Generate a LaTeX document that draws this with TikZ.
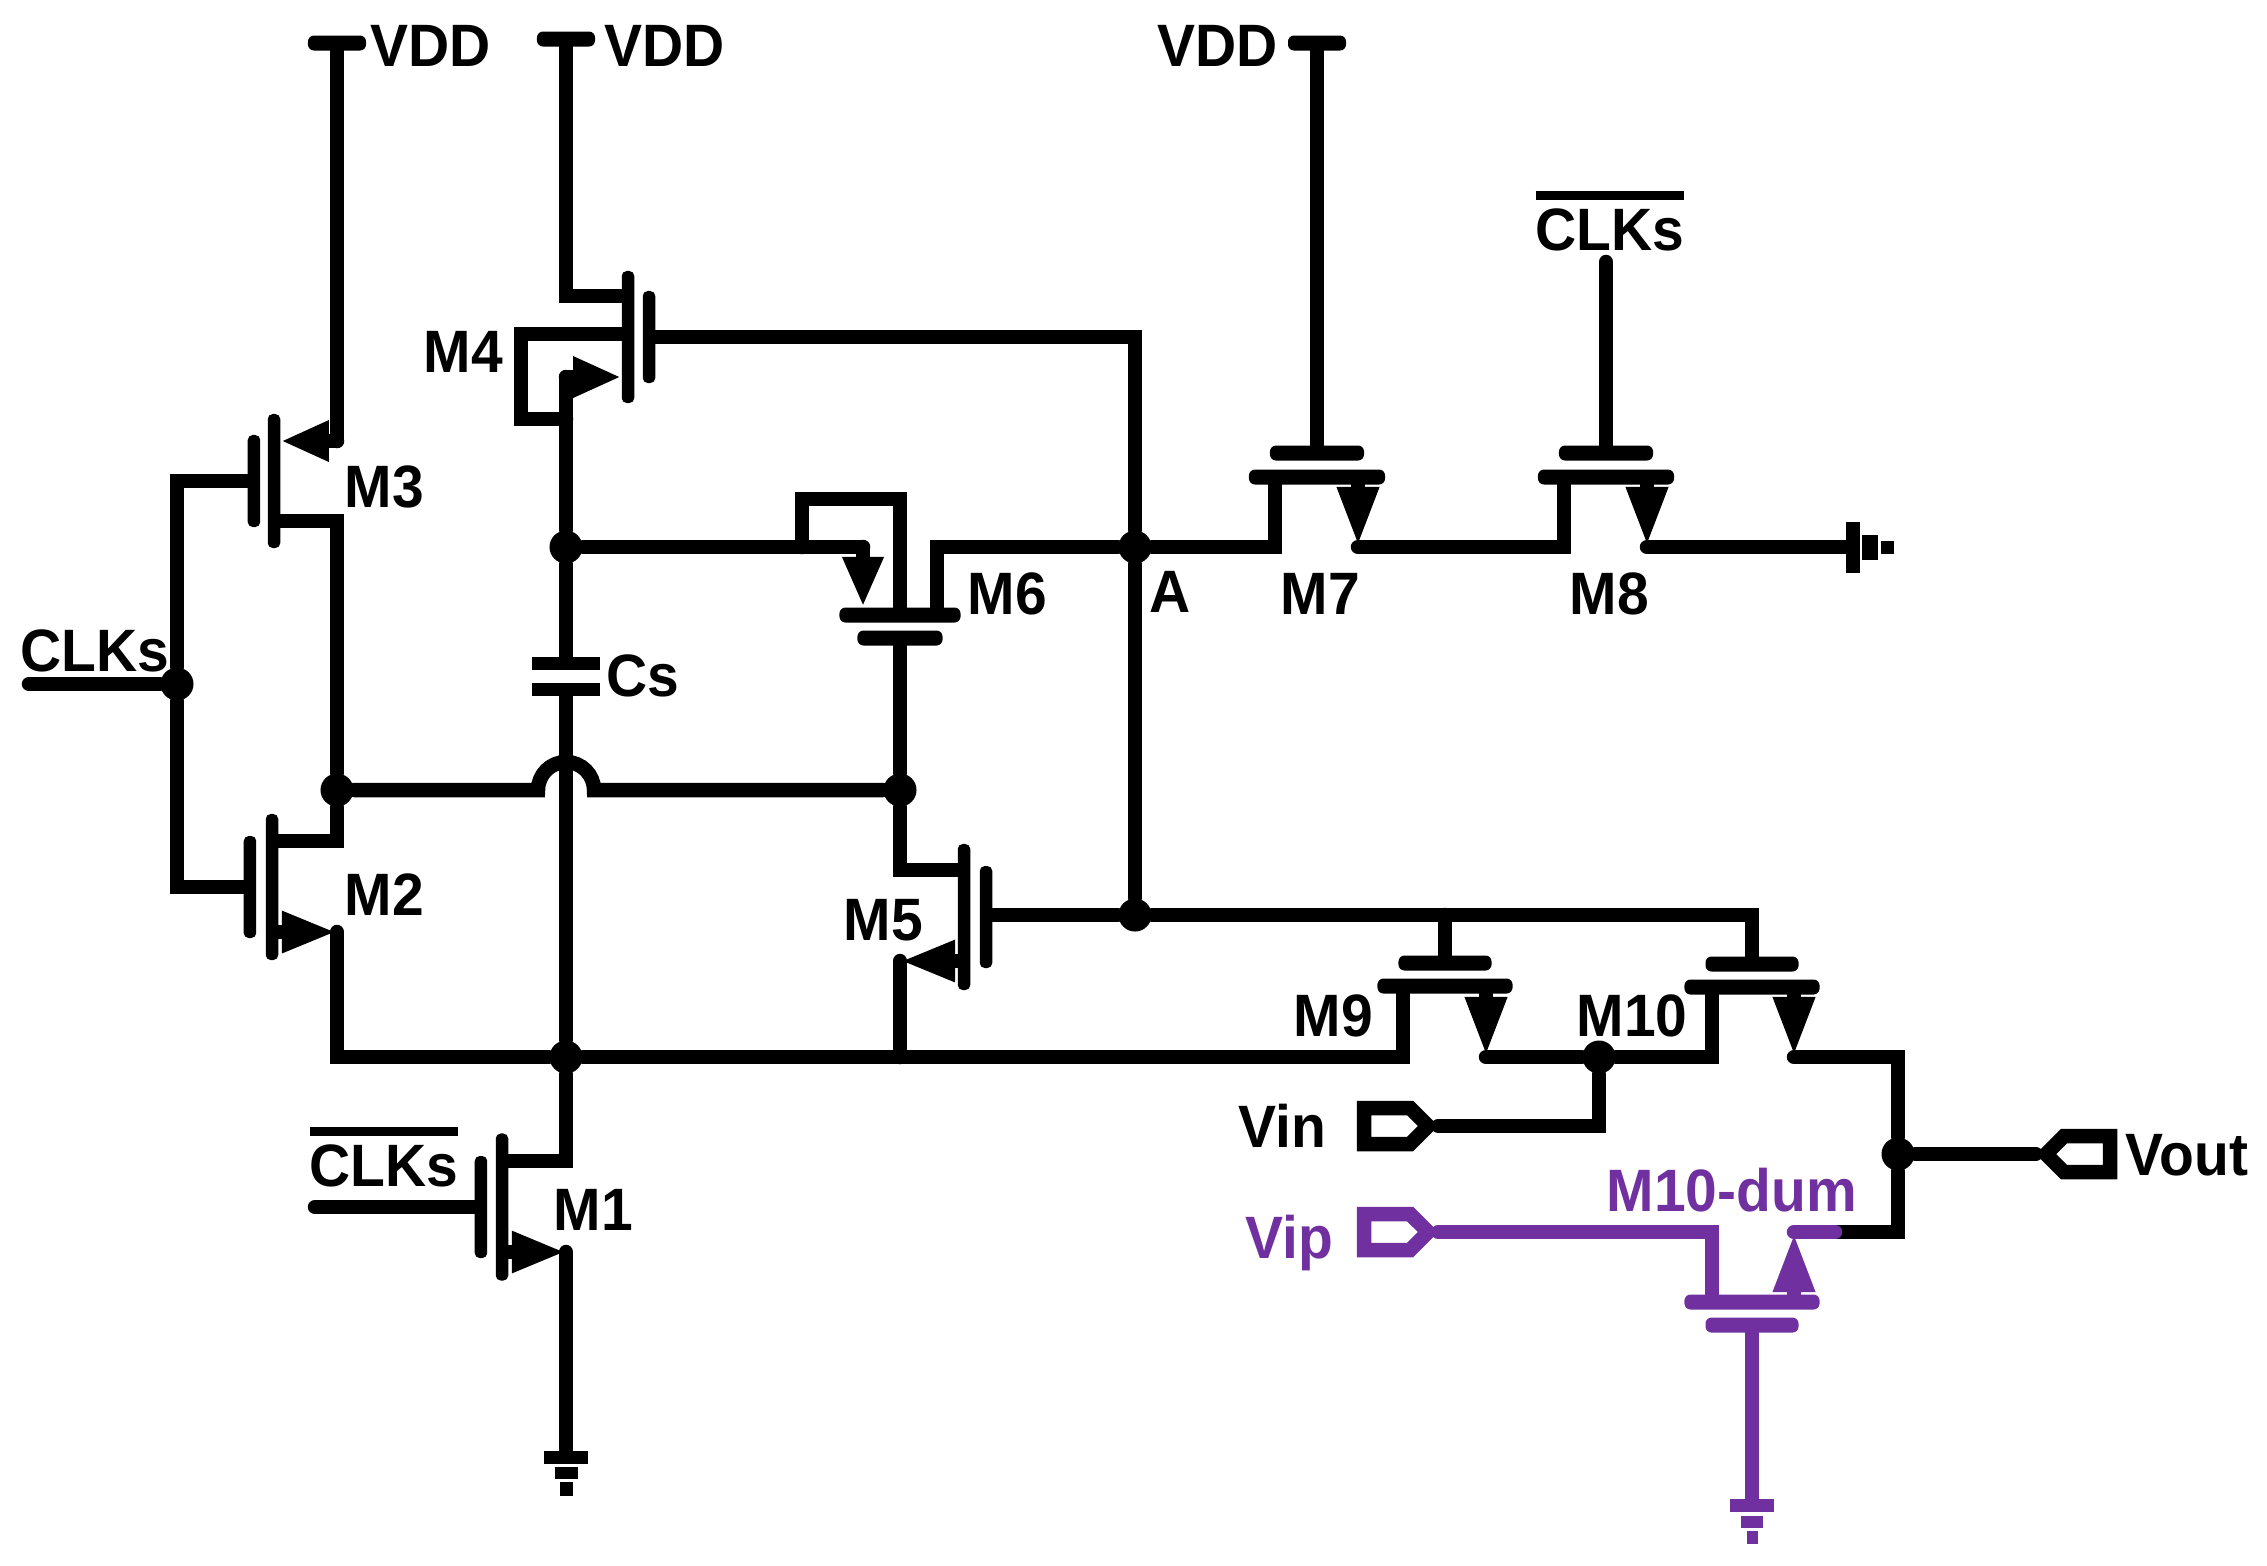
\documentclass[tikz,border=0pt]{standalone}
\usepackage{fontspec}
\setmainfont{Liberation Sans}
\usepackage{tikz}
\usetikzlibrary{shapes.symbols, arrows.meta}
\definecolor{dumcolor}{RGB}{112,48,160}
\tikzstyle{wire} = [line width=1.45mm, line cap=round, line join=miter]
\tikzstyle{arrow} = [wire, -{Triangle[length=#1, width=3.8mm]}]
\tikzstyle{dot} = [circle, fill, inner sep=0pt, minimum size=0.33cm]
\tikzstyle{vbar} = [rectangle, rounded corners=0.5mm, fill, inner sep=0pt, minimum width=0.125cm, minimum height=#1]
\tikzstyle{hbar} = [rectangle, rounded corners=0.6mm, fill, inner sep=0pt, minimum height=0.15cm, minimum width=#1]
\tikzstyle{plate} = [rectangle, fill, inner sep=0pt]
\tikzstyle{lbl} = [inner sep=0pt, anchor=base west, yscale=1.05, font=\fontsize{16.2pt}{16.2pt}\selectfont\bfseries]
\tikzstyle{port} = [signal, signal from=nowhere, signal pointer angle=90, draw, line width=1.45mm, inner sep=0pt, minimum width=0.64cm, minimum height=0.36cm]
\newcommand{\clkbar}{\vbox{\hrule height 0.08cm \kern 0.08cm \hbox{CLKs}}}

\begin{document}

\begin{tikzpicture}[x=0.01cm, y=-0.01cm, node distance=2cm]
\useasboundingbox (0,0) rectangle (2267,1565);

\node (VDDa) [lbl] at (370,66) {VDD};

\node (VDDb) [lbl] at (604,66) {VDD};

\node (VDDc) [lbl] at (1157,66) {VDD};

\node (CLKa) [lbl] at (20,671) {CLKs};

\node (CLKb) [lbl] at (309,1186) {\clkbar};

\node (CLKc) [lbl] at (1535,250) {\clkbar};

\node (lM1) [lbl] at (553,1230) {M1};

\node (lM2) [lbl] at (344,915) {M2};

\node (lM3) [lbl] at (344,507) {M3};

\node (lM4) [lbl] at (423,372) {M4};

\node (lM5) [lbl] at (843,940) {M5};

\node (lM6) [lbl] at (967,614) {M6};

\node (lM7) [lbl] at (1280,614) {M7};

\node (lM8) [lbl] at (1569,614) {M8};

\node (lM9) [lbl] at (1293,1036) {M9};

\node (lM10) [lbl] at (1576,1036) {M10};

\node (lCs) [lbl] at (606,696) {Cs};

\node (lA) [lbl] at (1149,612) {A};

\node (lVin) [lbl] at (1238,1147) {Vin};

\node (lVout) [lbl] at (2125,1175) {Vout};

\node (lVip) [lbl, dumcolor] at (1245,1258) {Vip};

\node (lDum) [lbl, dumcolor] at (1606,1211) {M10-dum};


\node (vdda) [hbar=0.58cm] at (337,43) {};

\node (vddb) [hbar=0.58cm] at (566,39) {};

\node (vddc) [hbar=0.58cm] at (1317,43) {};

\node (M1ch) [vbar=1.47cm] at (502,1207) {};

\node (M1g) [vbar=1.02cm, left of=M1ch, node distance=0.21cm] {};

\node (M2ch) [vbar=1.46cm] at (272,887) {};

\node (M2g) [vbar=1.02cm, left of=M2ch, node distance=0.22cm] {};

\node (M3ch) [vbar=1.34cm] at (274,481) {};

\node (M3g) [vbar=0.92cm, left of=M3ch, node distance=0.2cm] {};

\node (M4ch) [vbar=1.32cm] at (628,337) {};

\node (M4g) [vbar=0.92cm, right of=M4ch, node distance=0.21cm] {};

\node (M5ch) [vbar=1.46cm] at (964,917) {};

\node (M5g) [vbar=1.02cm, right of=M5ch, node distance=0.22cm] {};

\node (M6ch) [hbar=1.21cm] at (900,615) {};

\node (M6g) [hbar=0.85cm, below of=M6ch, node distance=0.23cm] {};

\node (M7ch) [hbar=1.36cm] at (1317,477) {};

\node (M7g) [hbar=0.94cm, above of=M7ch, node distance=0.24cm] {};

\node (M8ch) [hbar=1.36cm] at (1606,477) {};

\node (M8g) [hbar=0.94cm, above of=M8ch, node distance=0.24cm] {};

\node (M9ch) [hbar=1.35cm] at (1445,986) {};

\node (M9g) [hbar=0.93cm, above of=M9ch, node distance=0.23cm] {};

\node (M10ch) [hbar=1.35cm] at (1752,987) {};

\node (M10g) [hbar=0.93cm, above of=M10ch, node distance=0.23cm] {};

\node (dumch) [hbar=1.35cm, dumcolor] at (1752,1302) {};

\node (dumg) [hbar=0.93cm, dumcolor, below of=dumch, node distance=0.23cm] {};

\node (Csa) [plate, minimum width=0.68cm, minimum height=0.13cm] at (566,663) {};

\node (Csb) [plate, minimum width=0.68cm, minimum height=0.13cm] at (566,689) {};

\node (gnda) [plate, minimum width=0.44cm, minimum height=0.13cm] at (566,1457) {};

\node (gndb) [plate, minimum width=0.23cm, minimum height=0.12cm, below of=gnda, node distance=0.155cm] {};

\node (gndc) [plate, minimum width=0.13cm, minimum height=0.14cm, below of=gndb, node distance=0.16cm] {};

\node (gnde) [plate, minimum width=0.14cm, minimum height=0.51cm] at (1853,547) {};

\node (gndf) [plate, minimum width=0.16cm, minimum height=0.25cm, right of=gnde, node distance=0.17cm] {};

\node (gndg) [plate, minimum width=0.13cm, minimum height=0.13cm, right of=gndf, node distance=0.175cm] {};

\node (dgnda) [plate, dumcolor, minimum width=0.44cm, minimum height=0.13cm] at (1752,1505) {};

\node (dgndb) [plate, dumcolor, minimum width=0.22cm, minimum height=0.12cm, below of=dgnda, node distance=0.165cm] {};

\node (dgndc) [plate, dumcolor, minimum width=0.11cm, minimum height=0.13cm, below of=dgndb, node distance=0.155cm] {};

\node (vinp) [port, signal to=east] at (1387,1126) {};

\node (vipp) [port, signal to=east, dumcolor] at (1387,1232) {};

\node (voutp) [port, signal to=west] at (2087,1154) {};

\node (nclk) [dot] at (177,684) {};

\node (n1) [dot] at (566,547) {};

\node (n2) [dot] at (337,790) {};

\node (n3) [dot] at (900,790) {};

\node (n4) [dot] at (566,1057) {};

\node (n5) [dot] at (1599,1057) {};

\node (n6) [dot] at (1898,1154) {};

\node (nA) [dot] at (1135,547) {};

\node (nB) [dot] at (1135,915) {};


\coordinate (clkin) at (29,684);

\coordinate (clkbin) at (315,1207);

\coordinate (clkcin) at (1606,262);

\coordinate (M1d) at (566,1161);

\coordinate (M1s) at (566,1252);

\coordinate (M2d) at (337,841);

\coordinate (M2s) at (337,932);

\coordinate (M3s) at (337,441);

\coordinate (M3d) at (337,521);

\coordinate (M4d) at (566,296);

\coordinate (M4s) at (566,377);

\coordinate (M4bt) at (521,334);

\coordinate (M4bb) at (521,419);

\coordinate (M5d) at (900,870);

\coordinate (M5s) at (900,961);

\coordinate (M6b) at (802,547);

\coordinate (M6bt) at (802,499);

\coordinate (M6s) at (863,547);

\coordinate (M6d) at (937,547);

\coordinate (M7d) at (1275,547);

\coordinate (M7s) at (1358,547);

\coordinate (M8d) at (1564,547);

\coordinate (M8s) at (1647,547);

\coordinate (M9d) at (1403,1057);

\coordinate (M9s) at (1486,1057);

\coordinate (M10d) at (1712,1057);

\coordinate (M10s) at (1794,1057);

\coordinate (dumd) at (1712,1232);

\coordinate (dums) at (1794,1232);

\coordinate (dumm) at (1835,1232);

\coordinate (hopl) at (538,790);


\draw [wire] (clkin) -- (nclk);

\draw [wire] (M3g.west) -| (nclk);

\draw [wire] (M2g.west) -| (nclk);

\draw [wire] (vdda) -- (M3s);

\draw [arrow=4.8mm] (M3s) -- (M3ch.east |- M3s);

\draw [wire] (M3ch.east |- M3d) -- (M3d) -- (n2);

\draw [wire] (M2ch.east |- M2d) -- (M2d) -- (n2);

\draw [arrow=5.5mm] (M2ch.east |- M2s) -- (M2s);

\draw [wire] (M2s) |- (n4);

\draw [wire] (vddb) -- (M4d) -- (M4ch.west |- M4d);

\draw [arrow=4.8mm] (M4s) -- (M4ch.west |- M4s);

\draw [wire] (M4ch.west |- M4bt) -- (M4bt) -- (M4bb) -- (M4bb -| M4s);

\draw [wire] (M4s) -- (n1);

\draw [wire] (M4g.east) -| (nA);

\draw [wire] (n1) -- (Csa);

\draw [wire] (Csb) -- (n4);

\draw [wire] (n2) -- (hopl) arc[start angle=180, end angle=0, radius=0.28cm] -- (n3);

\draw [wire] (n1) -- (M6s);

\draw [arrow=5mm] (M6s) -- (M6s |- M6ch.north);

\draw [wire] (M6b) -- (M6bt) -| (M6ch.north);

\draw [wire] (M6d |- M6ch.north) -- (M6d) -- (nA);

\draw [wire] (M6g.south) -- (n3);

\draw [wire] (n3) -- (M5d) -- (M5ch.west |- M5d);

\draw [arrow=5.5mm] (M5ch.west |- M5s) -- (M5s);

\draw [wire] (M5s) -- (M5s |- n4);

\draw [wire] (M5g.east |- nB) -- (nB);

\draw [wire] (nA) -- (nB);

\draw [wire] (n4) -- (M1d) -- (M1ch.east |- M1d);

\draw [arrow=5.4mm] (M1ch.east |- M1s) -- (M1s);

\draw [wire] (M1s) -- (gnda);

\draw [wire] (clkbin) -- (M1g.west);

\draw [wire] (vddc) -- (M7g);

\draw [wire] (nA) -- (M7d) -- (M7d |- M7ch.south);

\draw [arrow=6mm] (M7s |- M7ch.south) -- (M7s);

\draw [wire] (M7s) -- (M8d) -- (M8d |- M8ch.south);

\draw [wire] (clkcin) -- (M8g);

\draw [arrow=6mm] (M8s |- M8ch.south) -- (M8s);

\draw [wire] (M8s) -- (gnde);

\draw [wire] (nB) -| (M10g.north);

\draw [wire] (M9g.north) -- (M9g.north |- nB);

\draw [wire] (n4) -- (M9d) -- (M9d |- M9ch.south);

\draw [arrow=6mm] (M9s |- M9ch.south) -- (M9s);

\draw [wire] (M9s) -- (n5) -- (M10d) -- (M10d |- M10ch.south);

\draw [arrow=6mm] (M10s |- M10ch.south) -- (M10s);

\draw [wire] (M10s) -| (n6);

\draw [wire] (n6) -- (voutp.west);

\draw [wire] (n5) |- (vinp.east);

\draw [wire] (n6) |- (dumm);

\draw [wire, dumcolor] (dumm) -- (dums);

\draw [arrow=6mm, dumcolor] (dums |- dumch.north) -- (dums);

\draw [wire, dumcolor] (vipp.east) -- (dumd) -- (dumd |- dumch.north);

\draw [wire, dumcolor] (dumg) -- (dgnda);

\end{tikzpicture}

\end{document}
